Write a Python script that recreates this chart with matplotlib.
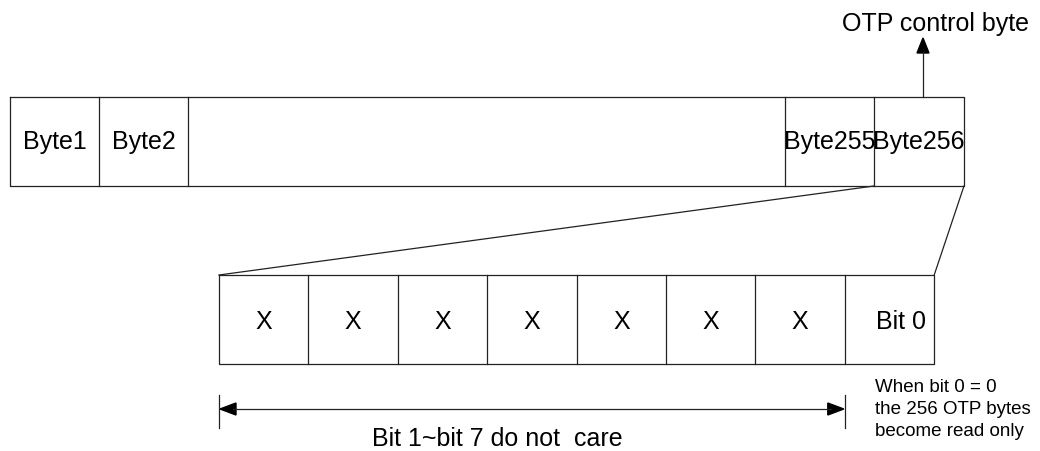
import matplotlib.pyplot as plt
from matplotlib.patches import Polygon

plt.rcParams['font.family'] = ['Liberation Sans', 'DejaVu Sans']

# top row: 256 OTP bytes (cell edges in pixels)
byte_edges = [10, 99, 188, 785, 874, 964]
byte_labels = ["Byte1", "Byte2", "", "Byte255", "Byte256"]

# bottom row: bits of the control byte
bit_left = 219
bit_width = 89.4
bit_labels = ["X", "X", "X", "X", "X", "X", "X", "Bit 0"]

note_lines = ["When bit 0 = 0", "the 256 OTP bytes", "become read only"]

LC = '#222222'
LW = 0.9

fig = plt.figure(figsize=(10.4, 4.51), dpi=100)
ax = fig.add_axes([0, 0, 1, 1])
ax.set_xlim(0, 1040)
ax.set_ylim(451, 0)
ax.axis('off')

# ------------------ TOP ROW ------------------
top_y0, top_y1 = 97, 186
ax.plot([byte_edges[0], byte_edges[-1], byte_edges[-1], byte_edges[0], byte_edges[0]],
        [top_y0, top_y0, top_y1, top_y1, top_y0], color=LC, lw=LW)
for x in byte_edges[1:-1]:
    ax.plot([x, x], [top_y0, top_y1], color=LC, lw=LW)
for i, lab in enumerate(byte_labels):
    cx = (byte_edges[i] + byte_edges[i + 1]) / 2
    ax.text(cx, (top_y0 + top_y1) / 2, lab, ha='center', va='center', fontsize=18)

# arrow up to the label
ax_x = 923
ax.plot([ax_x, ax_x], [top_y0, 52], color=LC, lw=LW)
ax.add_patch(Polygon([[ax_x, 38], [ax_x - 6, 53], [ax_x + 6, 53]], closed=True,
                     color='black'))
ax.text(936, 24, "OTP control byte", ha='center', va='center', fontsize=18)

# ------------------ BOTTOM ROW ------------------
bot_y0, bot_y1 = 275, 364
n = len(bit_labels)
bit_right = bit_left + n * bit_width
ax.plot([bit_left, bit_right, bit_right, bit_left, bit_left],
        [bot_y0, bot_y0, bot_y1, bot_y1, bot_y0], color=LC, lw=LW)
for i in range(1, n):
    x = bit_left + i * bit_width
    ax.plot([x, x], [bot_y0, bot_y1], color=LC, lw=LW)
for i, lab in enumerate(bit_labels):
    cx = bit_left + (i + 0.5) * bit_width
    if lab != "X":
        cx += 12
    ax.text(cx, 322, lab, ha='center', va='center', fontsize=18)

# zoom lines from Byte256 to bit row
ax.plot([byte_edges[-2], bit_left], [top_y1, bot_y0], color=LC, lw=LW)
ax.plot([byte_edges[-1], bit_right], [top_y1, bot_y0], color=LC, lw=LW)

# ------------------ DIMENSION LINE ------------------
d_x0 = bit_left
d_x1 = bit_left + 7 * bit_width
d_y = 409
ax.plot([d_x0, d_x0], [395, 428], color=LC, lw=LW)
ax.plot([d_x1, d_x1], [395, 428], color=LC, lw=LW)
ax.plot([d_x0 + 14, d_x1 - 14], [d_y, d_y], color=LC, lw=LW)
ax.add_patch(Polygon([[d_x0 + 1, d_y], [d_x0 + 17, d_y - 6], [d_x0 + 17, d_y + 6]],
                     closed=True, color='black'))
ax.add_patch(Polygon([[d_x1 - 1, d_y], [d_x1 - 17, d_y - 6], [d_x1 - 17, d_y + 6]],
                     closed=True, color='black'))
ax.text(497, 439, "Bit 1~bit 7 do not  care", ha='center', va='center', fontsize=18)

for i, line in enumerate(note_lines):
    ax.text(875, 388 + 22 * i, line, ha='left', va='center', fontsize=13.5)

fig.savefig("out.png", dpi=100)
